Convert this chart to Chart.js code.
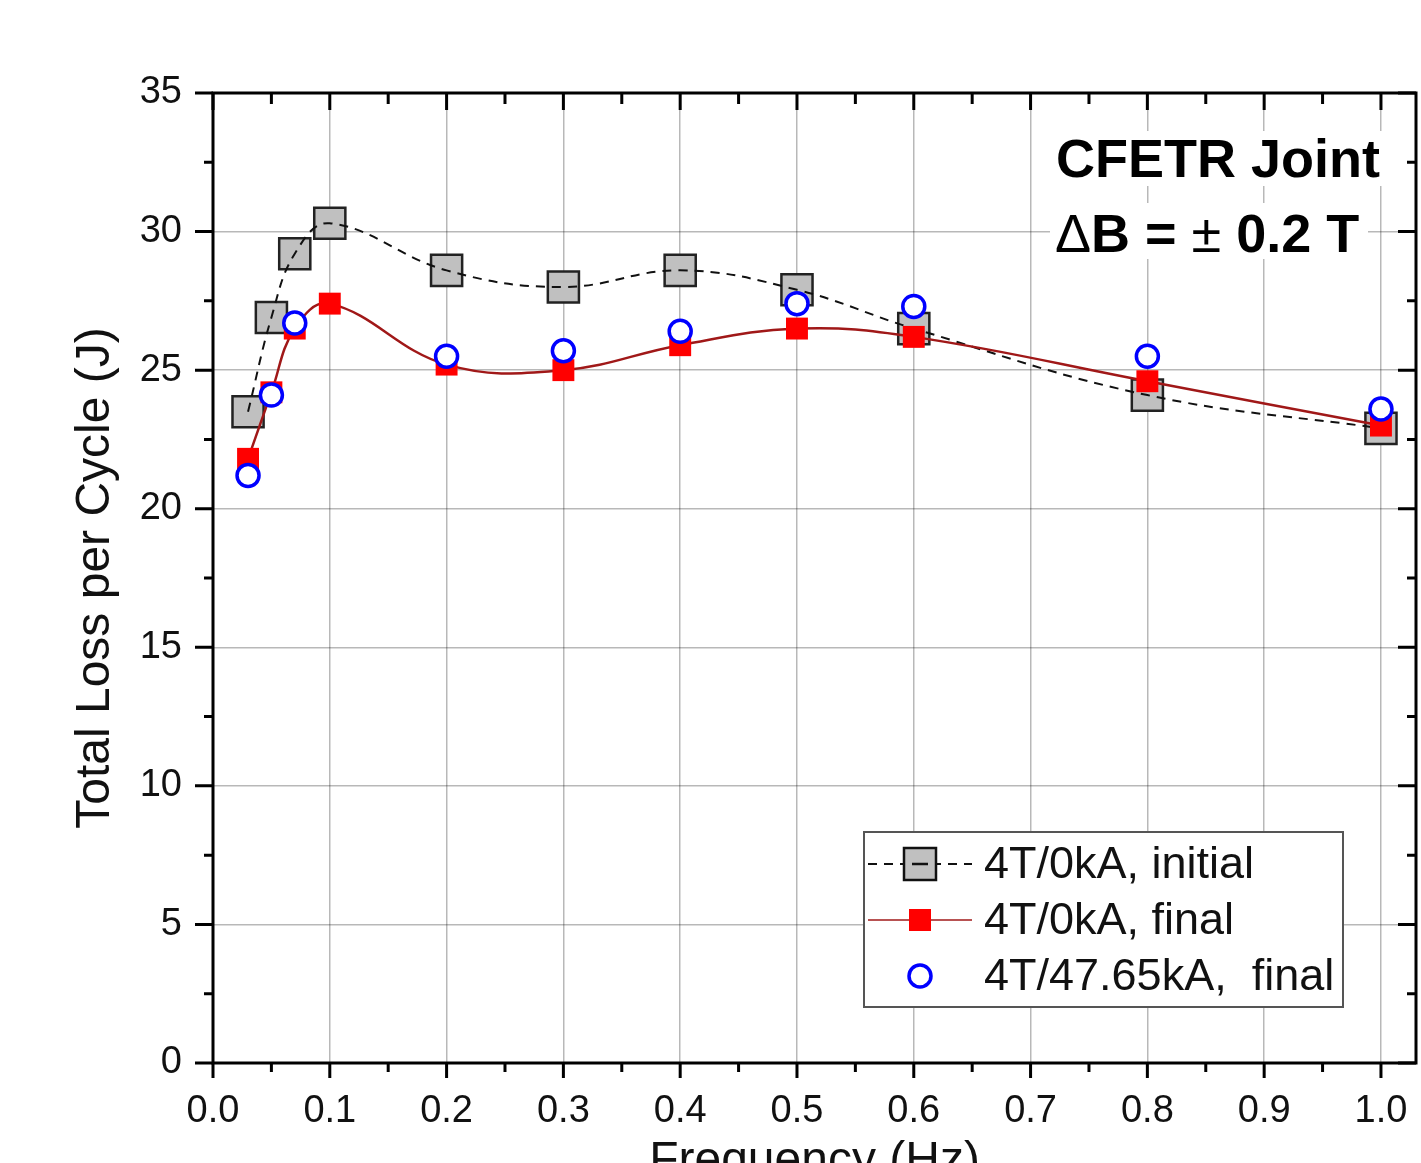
<!DOCTYPE html>
<html>
<head>
<meta charset="utf-8">
<script src="https://cdn.jsdelivr.net/npm/chart.js@4/dist/chart.umd.min.js"></script>
<style>
  html, body { margin: 0; padding: 0; background: #fff; overflow: hidden; }
  #wrap { width: 1421px; height: 1163px; }
  canvas { display: block; }
</style>
</head>
<body>
<div id="wrap"><canvas id="lossChart" width="1421" height="1163"></canvas></div>
<script>
// frequencies (Hz) and total loss per cycle (J)
const freqAll = [0.03, 0.05, 0.07, 0.1, 0.2, 0.3, 0.4, 0.5, 0.6, 0.8, 1.0];
const lossInitial = [23.5, 26.9, 29.2, 30.3, 28.6, 28.0, 28.6, 27.9, 26.5, 24.1, 22.9];
const lossFinal = [21.8, 24.2, 26.5, 27.4, 25.2, 25.0, 25.9, 26.5, 26.2, 24.6, 23.0];
const freqHighI = [0.03, 0.05, 0.07, 0.2, 0.3, 0.4, 0.5, 0.6, 0.8, 1.0];
const lossHighI = [21.2, 24.1, 26.7, 25.5, 25.7, 26.4, 27.4, 27.3, 25.5, 23.6];

const xTicks = [0.0, 0.1, 0.2, 0.3, 0.4, 0.5, 0.6, 0.7, 0.8, 0.9, 1.0];
const yTicks = [0, 5, 10, 15, 20, 25, 30, 35];
const seriesNames = ['4T/0kA, initial', '4T/0kA, final', '4T/47.65kA,  final'];

const toPoints = (xs, ys) => xs.map((x, i) => ({x: x, y: ys[i]}));

Chart.defaults.font.family = '"Liberation Sans", Arial, sans-serif';
Chart.defaults.color = '#111';

const gridColor = 'rgba(0,0,0,0.28)';
const plotRight = 1416;

// the layout keeps some room for the last tick label; pull the right edge back out
const fixRight = {
    id: 'fixRight',
    afterLayout(chart) {
        const a = chart.chartArea;
        const x = chart.scales.x;
        a.right = plotRight;
        a.width = a.right - a.left;
        x.right = plotRight;
        x.width = x.right - x.left;
        x.configure();
    }
};

// frame + tick marks (outward on bottom/left, inward on top/right)
const frameTicks = {
    id: 'frameTicks',
    afterDraw(chart) {
        const {ctx, chartArea: a, scales: {x, y}} = chart;
        ctx.save();
        ctx.strokeStyle = '#000';
        ctx.lineWidth = 3;
        ctx.beginPath();
        for (let i = 0; i <= 20; i++) {
            const px = x.getPixelForValue(i * 0.05);
            const len = i % 2 === 0 ? 15 : 9;
            ctx.moveTo(px, a.bottom); ctx.lineTo(px, a.bottom + len);
            ctx.moveTo(px, a.top); ctx.lineTo(px, a.top + len + 2);
        }
        for (let i = 0; i <= 14; i++) {
            const py = y.getPixelForValue(i * 2.5);
            const len = i % 2 === 0 ? 18 : 9;
            ctx.moveTo(a.left, py); ctx.lineTo(a.left - len, py);
            ctx.moveTo(a.right, py); ctx.lineTo(a.right - len, py);
        }
        ctx.stroke();
        ctx.strokeRect(a.left, a.top, a.right - a.left, a.bottom - a.top);
        ctx.restore();
    }
};

// text label in the upper right corner
const noteLabel = {
    id: 'noteLabel',
    afterDraw(chart) {
        const ctx = chart.ctx;
        ctx.save();
        ctx.fillStyle = '#fff';
        ctx.fillRect(1050, 131, 340, 55);
        ctx.fillRect(1050, 203, 318, 56);
        ctx.fillStyle = '#000';
        ctx.textBaseline = 'alphabetic';
        ctx.textAlign = 'left';
        ctx.font = 'bold 54px "Liberation Sans", Arial, sans-serif';
        ctx.fillText('CFETR Joint', 1056, 177);
        const parts = [
            ['Δ', '54px'], ['B = ', 'bold 54px'], ['±', '54px'], [' 0.2 T', 'bold 54px']
        ];
        let px = 1055;
        parts.forEach(([txt, f]) => {
            ctx.font = f + ' "Liberation Sans", Arial, sans-serif';
            ctx.fillText(txt, px, 252);
            px += ctx.measureText(txt).width;
        });
        ctx.restore();
    }
};

// legend box drawn in the lower right
const boxLegend = {
    id: 'boxLegend',
    afterDraw(chart) {
        const ctx = chart.ctx;
        const left = 864, top = 832, w = 479, h = 175;
        ctx.save();
        ctx.fillStyle = '#fff';
        ctx.fillRect(left, top, w, h);
        ctx.strokeStyle = '#555';
        ctx.lineWidth = 2;
        ctx.strokeRect(left, top, w, h);
        const rows = [864, 920, 976];
        const mx = 920;
        // row 1: dashed line + gray square
        ctx.strokeStyle = '#111';
        ctx.lineWidth = 2;
        ctx.setLineDash([9, 7]);
        ctx.beginPath(); ctx.moveTo(868, rows[0]); ctx.lineTo(972, rows[0]); ctx.stroke();
        ctx.setLineDash([]);
        ctx.fillStyle = '#c0c0c0';
        ctx.fillRect(mx - 16, rows[0] - 16, 32, 32);
        ctx.lineWidth = 2.5;
        ctx.strokeRect(mx - 16, rows[0] - 16, 32, 32);
        ctx.beginPath(); ctx.moveTo(mx - 8, rows[0]); ctx.lineTo(mx + 8, rows[0]); ctx.stroke();
        // row 2: red line + red square
        ctx.strokeStyle = '#a01818';
        ctx.lineWidth = 1.5;
        ctx.beginPath(); ctx.moveTo(868, rows[1]); ctx.lineTo(972, rows[1]); ctx.stroke();
        ctx.fillStyle = '#ff0000';
        ctx.fillRect(mx - 11, rows[1] - 11, 22, 22);
        // row 3: blue circle
        ctx.strokeStyle = '#0000ff';
        ctx.fillStyle = '#fff';
        ctx.lineWidth = 3.5;
        ctx.beginPath(); ctx.arc(mx, rows[2], 11, 0, Math.PI * 2); ctx.fill(); ctx.stroke();
        // labels
        ctx.fillStyle = '#111';
        ctx.font = '45px "Liberation Sans", Arial, sans-serif';
        ctx.textBaseline = 'middle';
        seriesNames.forEach((name, i) => ctx.fillText(name, 984, rows[i] + 2));
        ctx.restore();
    }
};

new Chart(document.getElementById('lossChart'), {
    type: 'scatter',
    data: {
        datasets: [
            {
                label: seriesNames[0],
                data: toPoints(freqAll, lossInitial),
                showLine: false,
                pointStyle: 'rect',
                pointRadius: 22,
                backgroundColor: '#c0c0c0',
                borderColor: '#222',
                borderWidth: 2.5,
                order: 4
            },
            {
                label: seriesNames[0] + ' line',
                data: toPoints(freqAll, lossInitial),
                showLine: true,
                pointRadius: 0,
                borderColor: '#111',
                borderWidth: 2,
                borderDash: [9, 7],
                tension: 0.4,
                order: 3
            },
            {
                label: seriesNames[1],
                data: toPoints(freqAll, lossFinal),
                showLine: true,
                tension: 0.4,
                borderColor: '#a01818',
                borderWidth: 2.5,
                pointStyle: 'rect',
                pointRadius: 15.5,
                pointBackgroundColor: '#ff0000',
                pointBorderWidth: 0,
                order: 2
            },
            {
                label: seriesNames[2],
                data: toPoints(freqHighI, lossHighI),
                showLine: false,
                pointStyle: 'circle',
                pointRadius: 11,
                backgroundColor: '#fff',
                borderColor: '#0000ff',
                borderWidth: 3.5,
                order: 1
            }
        ]
    },
    options: {
        responsive: false,
        animation: false,
        layout: { padding: { top: 93, right: 5, left: 0, bottom: 0 } },
        plugins: { legend: { display: false }, tooltip: { enabled: false } },
        scales: {
            x: {
                type: 'linear',
                min: 0,
                max: 1.03,
                afterBuildTicks: s => { s.ticks = xTicks.map(v => ({value: v})); },
                afterFit: s => { s.height = 100; },
                ticks: {
                    padding: 26,
                    font: { size: 38 },
                    color: '#111',
                    callback: v => Number(v).toFixed(1)
                },
                grid: { color: gridColor, lineWidth: 1.5, drawTicks: false },
                border: { display: false },
                title: {
                    display: true,
                    text: 'Frequency (Hz)',
                    font: { size: 48 },
                    color: '#111',
                    padding: { top: 0, bottom: -28 }
                }
            },
            y: {
                min: 0,
                max: 35,
                afterBuildTicks: s => { s.ticks = yTicks.map(v => ({value: v})); },
                afterFit: s => { s.width = 213; },
                ticks: { padding: 31, font: { size: 38 }, color: '#111' },
                grid: { color: gridColor, lineWidth: 1.5, drawTicks: false },
                border: { display: false },
                title: {
                    display: true,
                    text: 'Total Loss per Cycle (J)',
                    font: { size: 48 },
                    color: '#111',
                    padding: { top: 67, bottom: 0 }
                }
            }
        }
    },
    plugins: [fixRight, noteLabel, boxLegend, frameTicks]
});
</script>
</body>
</html>
